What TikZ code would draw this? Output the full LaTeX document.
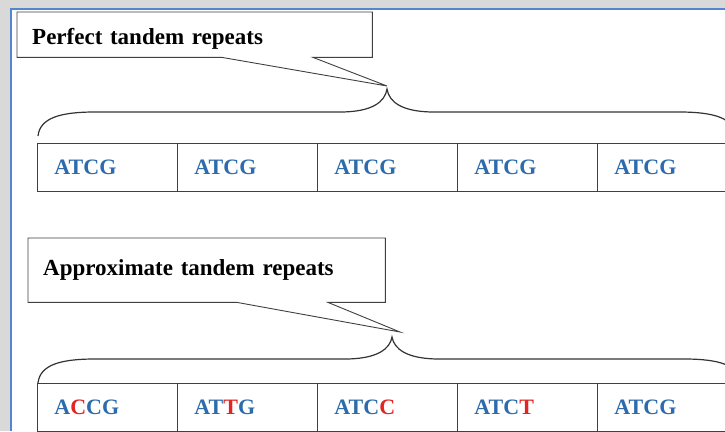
\documentclass[tikz,border=0pt]{standalone}
\usepackage{fontspec}
\setmainfont{Liberation Serif}
\usetikzlibrary{calc}
\definecolor{seqblue}{RGB}{44,108,172}
\definecolor{seqred}{RGB}{226,36,36}
\definecolor{pagegray}{RGB}{217,217,217}
\definecolor{pageblue}{RGB}{84,134,204}
\newcommand{\mut}[1]{\textcolor{seqred}{#1}}

\begin{document}
\begin{tikzpicture}[x=1pt, y=-1pt,
  cell/.style={draw=black!75, line width=0.9pt, minimum width=140pt, minimum height=48pt, inner xsep=17pt, text width=106pt, align=left, anchor=north west, font=\fontsize{22}{26}\selectfont\bfseries, text=seqblue},
  tagbox/.style={fill=white, inner xsep=15pt, align=left, anchor=north west, font=\fontsize{23}{27}\selectfont\bfseries},
  tagline/.style={draw=black!75, line width=0.9pt},
  curly/.style={draw=black!80, line width=1.2pt},
]
\useasboundingbox (0,0) rectangle (725,431);
\clip (0,0) rectangle (725,431);

% Page frame
\fill[pagegray] (0,0) rectangle (725,431);
\fill[white] (11,9) rectangle (725,431);
\draw[pageblue, line width=1.5pt] (11,431) -- (11,9) -- (725,9);

% Perfect tandem repeats
\coordinate (tipone) at (387,86);
\node[tagbox, minimum width=355pt, minimum height=45pt, text width=325pt, text height=24pt] (perfect) at (17,12) {Perfect tandem repeats};
\draw[tagline] (perfect.south west) -- (perfect.north west) -- (perfect.north east) -- (perfect.south east)
  -- ([xshift=296pt]perfect.south west) -- (tipone) -- ([xshift=205pt]perfect.south west) -- cycle;
\draw[curly] (38,136) .. controls (40,118) and (60,112) .. (95,112) -- (340,112)
  .. controls (372,112) and (385,102) .. (387,89)
  .. controls (389,102) and (402,112) .. (434,112) -- (679,112)
  .. controls (714,112) and (734,118) .. (736,136);
\foreach \seq [count=\i from 0] in {ATCG,ATCG,ATCG,ATCG,ATCG}
  \node[cell] (top\i) at (37+140*\i,143) {\seq};

% Approximate tandem repeats
\coordinate (tiptwo) at (400,332);
\node[tagbox, minimum width=357pt, minimum height=64pt, text width=327pt] (approx) at (28,238) {Approximate tandem repeats};
\draw[tagline] (approx.south west) -- (approx.north west) -- (approx.north east) -- (approx.south east)
  -- ([xshift=300pt]approx.south west) -- (tiptwo) -- ([xshift=209pt]approx.south west) -- cycle;
\draw[curly] (38,383) .. controls (40,365) and (60,359) .. (95,359) -- (345,359)
  .. controls (377,359) and (390,349) .. (392,337)
  .. controls (394,349) and (407,359) .. (439,359) -- (684,359)
  .. controls (719,359) and (739,365) .. (741,383);
\foreach \seq [count=\i from 0] in {A\mut{C}CG,AT\mut{T}G,ATC\mut{C},ATC\mut{T},ATCG}
  \node[cell] (low\i) at (37+140*\i,383) {\seq};

\end{tikzpicture}
\end{document}
